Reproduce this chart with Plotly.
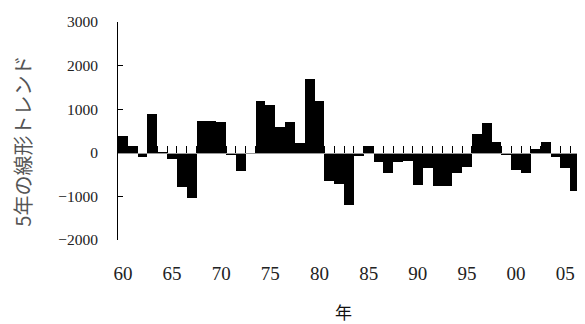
import plotly.graph_objects as go

years = list(range(1960, 2007))
trend = [380, 150, -100, 900, -30, -150, -780, -1030, 720, 740,
         700, -60, -420, 0, 1180, 1100, 600, 700, 230, 1700,
         1180, -650, -710, -1190, -70, 150, -200, -470, -200, -180,
         -735, -345, -757, -757, -465, -330, 430, 680, 250, -60,
         -405, -465, 90, 240, -90, -345, -870]
label_years = [1960, 1965, 1970, 1975, 1980, 1985, 1990, 1995, 2000, 2005]
label_text = ["60", "65", "70", "75", "80", "85", "90", "95", "00", "05"]
y_ticks = [-2000, -1000, 0, 1000, 2000, 3000]
boundaries = [y - 0.5 for y in years] + [years[-1] + 0.5]

xr = [years[0] - 0.5, years[-1] + 0.5]
yr = [-2000, 3000]

serif = "Liberation Serif, DejaVu Serif, serif"

fig = go.Figure()
fig.add_trace(go.Bar(x=years, y=trend, width=1, marker=dict(color="black", line=dict(width=0)),
                     hoverinfo="skip", showlegend=False))
# invisible helper trace on the zero-line axis
fig.add_trace(go.Scatter(x=[years[0]], y=[0], xaxis="x2", mode="markers",
                         marker=dict(opacity=0), hoverinfo="skip", showlegend=False))

zero_pos = (0 - yr[0]) / (yr[1] - yr[0])

# page body has an 8px default margin; figure sized to fill the rest
fig.update_layout(
    width=577, height=316,
    margin=dict(l=110, r=5, t=9, b=84),
    paper_bgcolor="white", plot_bgcolor="white",
    bargap=0,
    xaxis=dict(range=xr, tickvals=label_years, ticktext=label_text, showline=False,
               showgrid=False, zeroline=False, ticks="", ticklabelstandoff=20,
               tickfont=dict(family=serif, size=19, color="#222")),
    xaxis2=dict(range=xr, overlaying="x", anchor="free", position=zero_pos,
                side="bottom", showline=True, linecolor="#999", linewidth=1,
                tickvals=boundaries, ticks="inside", ticklen=7, tickcolor="black",
                tickwidth=1, showticklabels=False, showgrid=False, zeroline=False),
    yaxis=dict(range=yr, tickvals=y_ticks, showline=True, linecolor="black", linewidth=1,
               ticks="inside", ticklen=5, tickcolor="black", showgrid=False, zeroline=False,
               ticklabelstandoff=16, tickfont=dict(family=serif, size=15.5, color="#222")),
    annotations=[
        dict(text="5年の線形トレンド", xref="paper", yref="paper", x=-95/462, y=0.451,
             xanchor="center", yanchor="middle", textangle=-90, showarrow=False,
             font=dict(family="Noto Sans CJK JP", size=20, color="#555")),
        dict(text="年", xref="paper", yref="paper", x=(343-118)/462, y=-0.327,
             xanchor="center", yanchor="middle", showarrow=False,
             font=dict(family="Noto Sans CJK JP", size=17, color="#111")),
    ],
)

fig.write_html("out.html")
